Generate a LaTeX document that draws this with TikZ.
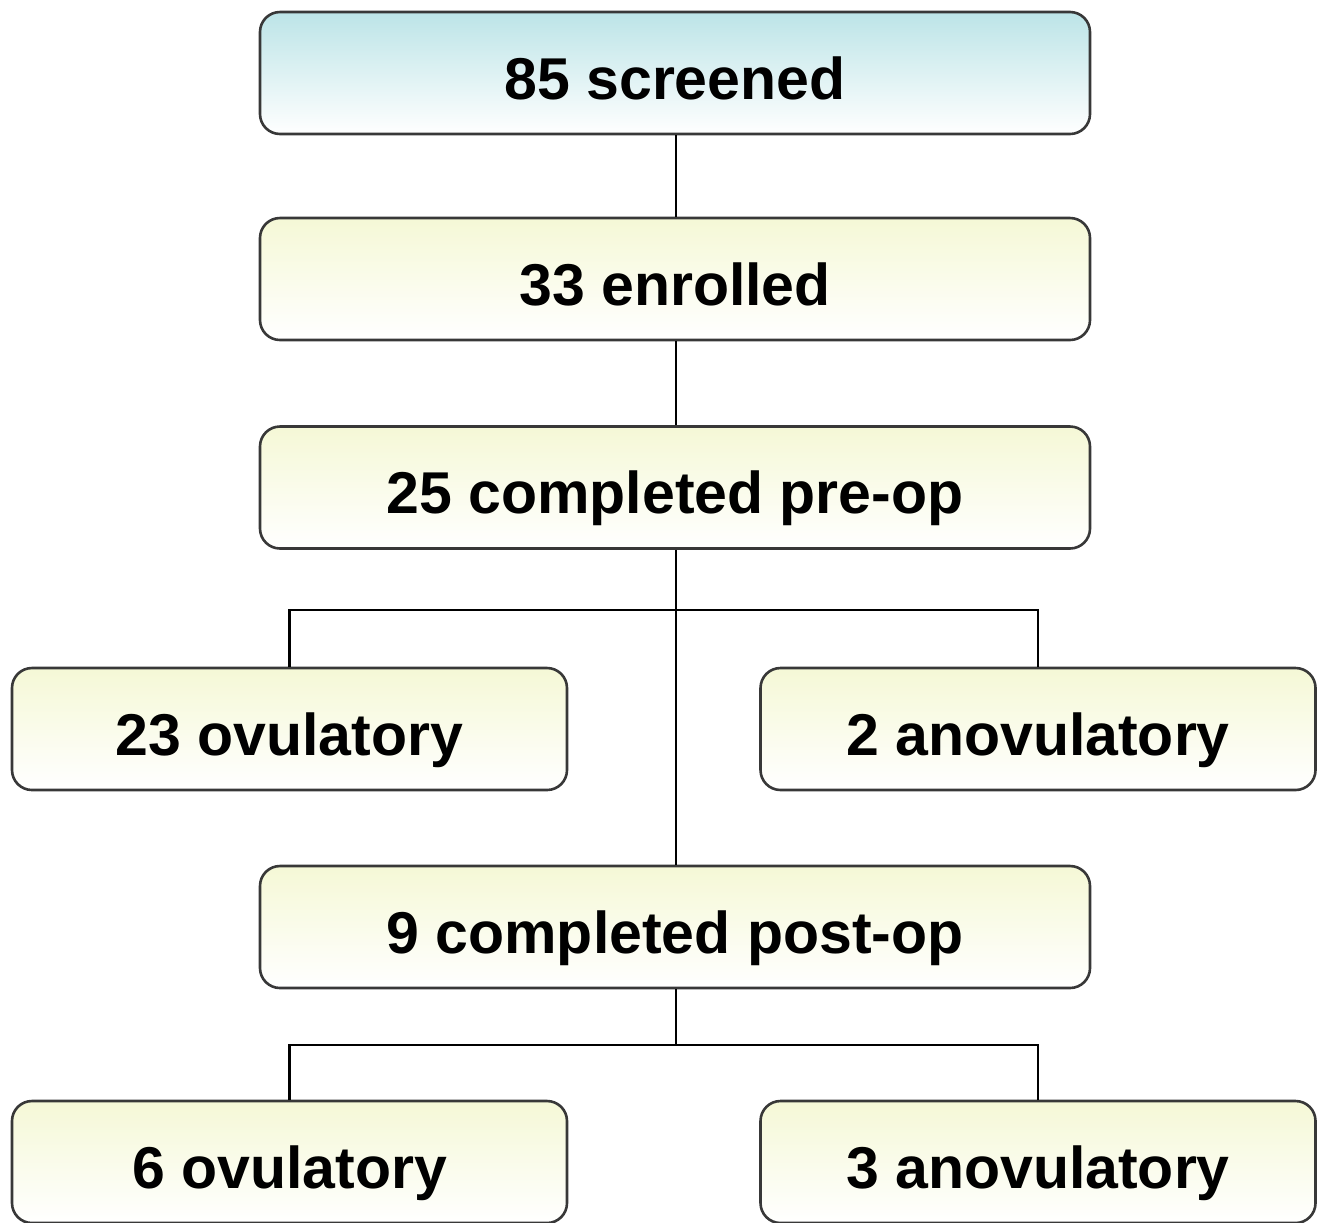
\documentclass[tikz,border=0pt]{standalone}
\usepackage{fontspec}
\setmainfont{Liberation Sans}
\begin{document}
\begin{tikzpicture}[x=0.5pt,y=-0.5pt,
  box/.style={draw=black!78, line width=1.3pt, rounded corners=10pt, minimum height=61pt, inner sep=0pt,
    text height=26pt, text depth=0pt,
    font=\bfseries\fontsize{29.5}{34}\selectfont, top color=yellowtop, bottom color=white, text=black},
  bluebox/.style={box, top color=bluetop, bottom color=white},
  wide/.style={minimum width=415pt},
  side/.style={minimum width=277.5pt},
  link/.style={draw=black, line width=1.2pt}]
\definecolor{yellowtop}{HTML}{F5F8D6}
\definecolor{bluetop}{HTML}{BCE4E7}
\useasboundingbox (0,0) rectangle (1326,1222);
\node[bluebox,wide] (s) at (675,73) {85 screened};
\node[box,wide] (e) at (675,279) {33 enrolled};
\node[box,wide] (p) at (675,487.5) {25 completed pre-op};
\node[box,side] (o1) at (289.5,729) {23 ovulatory};
\node[box,side] (a1) at (1038,729) {2 anovulatory};
\node[box,wide] (q) at (675,927) {9 completed post-op};
\node[box,side] (o2) at (289.5,1162) {6 ovulatory};
\node[box,side] (a2) at (1038,1162) {3 anovulatory};
\coordinate (j1) at (676,610);
\coordinate (j2) at (676,1045);
\draw[link] (s.south -| j1) -- (e.north -| j1);
\draw[link] (e.south -| j1) -- (p.north -| j1);
\draw[link] (p.south -| j1) -- (q.north -| j1);
\draw[link] (o1.north) -- (o1.north |- j1) -- (a1.north |- j1) -- (a1.north);
\draw[link] (q.south -| j2) -- (j2);
\draw[link] (o2.north) -- (o2.north |- j2) -- (a2.north |- j2) -- (a2.north);
\end{tikzpicture}
\end{document}
